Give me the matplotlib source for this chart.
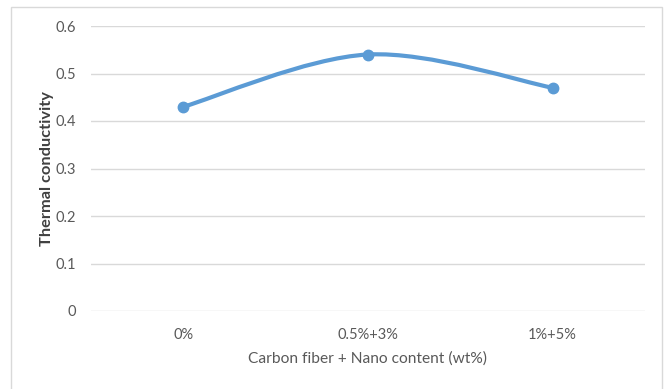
import matplotlib
matplotlib.use("Agg")
import matplotlib.pyplot as plt
from matplotlib.path import Path
from matplotlib.patches import PathPatch, Rectangle
import numpy as np

categories = ["0%", "0.5%+3%", "1%+5%"]
conductivity = [0.43, 0.54, 0.47]
y_ticks = [0, 0.1, 0.2, 0.3, 0.4, 0.5, 0.6]
y_tick_labels = ["0", "0.1", "0.2", "0.3", "0.4", "0.5", "0.6"]

W, H = 669, 389
fig = plt.figure(figsize=(W / 100, H / 100), dpi=100)
fig.patch.set_facecolor("white")
plt.rcParams["font.family"] = ["Lato", "DejaVu Sans"]

# chart-area border
fig.patches.append(Rectangle((11 / W, -0.01), (662 - 11) / W, 1 - 7 / H + 0.01,
                             transform=fig.transFigure, fill=False,
                             edgecolor="#D9D9D9", linewidth=1.0))

ax = fig.add_axes([91 / W, 1 - 311 / H, (645 - 91) / W, (311 - 26) / H])
ax.set_xlim(-0.5, len(categories) - 0.5)
ax.set_ylim(0, 0.6)
for s in ax.spines.values():
    s.set_visible(False)
ax.set_yticks(y_ticks)
ax.set_yticklabels(y_tick_labels)
ax.set_xticks(range(len(categories)))
ax.set_xticklabels(categories)
ax.tick_params(length=0, labelsize=10.5, colors="#595959")
ax.tick_params(axis="y", pad=11)
ax.tick_params(axis="x", pad=12)
ax.grid(axis="y", color="#D9D9D9", linewidth=1.0)
ax.set_axisbelow(True)

# smoothed line through the points (Catmull-Rom as cubic Bezier segments)
x = np.arange(len(conductivity), dtype=float)
y = np.array(conductivity, dtype=float)
pts = np.column_stack([x, y])
verts = [pts[0]]
codes = [Path.MOVETO]
t = 1 / 6
for i in range(len(pts) - 1):
    p0 = pts[i - 1] if i > 0 else pts[i]
    p1, p2 = pts[i], pts[i + 1]
    p3 = pts[i + 2] if i + 2 < len(pts) else pts[i + 1]
    c1 = p1 + (p2 - p0) * t
    c2 = p2 - (p3 - p1) * t
    verts += [c1, c2, p2]
    codes += [Path.CURVE4] * 3
ax.add_patch(PathPatch(Path(verts, codes), fill=False, edgecolor="#5B9BD5",
                       linewidth=3.0, capstyle="round", zorder=3))
ax.plot(x, y, linestyle="none", marker="o", markersize=7.5,
        color="#5B9BD5", zorder=4)

ax.set_xlabel("Carbon fiber + Nano content (wt%)", fontsize=11.2,
              color="#595959", labelpad=7)
ax.set_ylabel("Thermal conductivity", fontsize=11.8, color="#404040",
              fontweight="bold", labelpad=1)

fig.savefig("out.png", dpi=100)
